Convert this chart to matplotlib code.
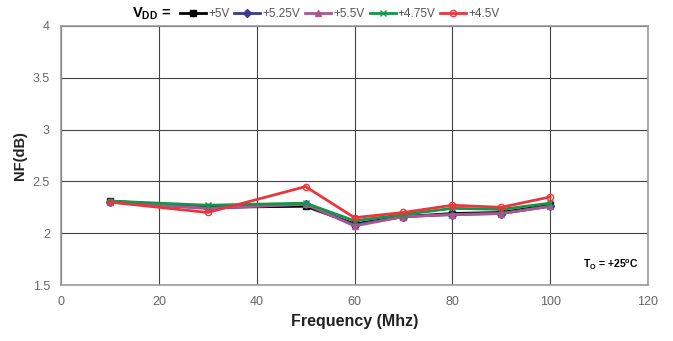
import numpy as np
import matplotlib.pyplot as plt

plt.rcParams['font.family'] = ['Liberation Sans', 'DejaVu Sans']

freq = [10, 30, 50, 60, 70, 80, 90, 100]
nf_5v = [2.31, 2.25, 2.26, 2.09, 2.16, 2.19, 2.20, 2.27]
nf_525v = [2.30, 2.24, 2.28, 2.08, 2.16, 2.18, 2.19, 2.26]
nf_55v = [2.30, 2.24, 2.28, 2.07, 2.16, 2.18, 2.19, 2.26]
nf_475v = [2.31, 2.27, 2.29, 2.12, 2.18, 2.24, 2.23, 2.29]
nf_45v = [2.30, 2.20, 2.45, 2.15, 2.20, 2.27, 2.25, 2.35]

series = [
    ('+5V', nf_5v, 'black', 's', 'black'),
    ('+5.25V', nf_525v, '#3a3a8e', 'D', '#3a3a8e'),
    ('+5.5V', nf_55v, '#a8588e', '^', '#a8588e'),
    ('+4.75V', nf_475v, '#16944a', 'x', '#16944a'),
    ('+4.5V', nf_45v, '#e8373c', 'o', 'none'),
]

fig = plt.figure(figsize=(6.73, 3.41), dpi=100)
ax = fig.add_axes([61/673, 1 - 285/341, (648-61)/673, (285-26)/341])

for lab, y, c, m, fc in series:
    ax.plot(freq, y, color=c, marker=m, markerfacecolor=fc, markeredgecolor=c,
            markersize=4.5, linewidth=2, label=lab)

ax.set_xlim(0, 120)
ax.set_ylim(1.5, 4)
ax.set_xticks(np.arange(0, 121, 20))
ax.set_yticks([1.5, 2, 2.5, 3, 3.5, 4])
ax.set_yticklabels(['1.5', '2', '2.5', '3', '3.5', '4'])
ax.grid(color='#444444', linewidth=0.8)
ax.tick_params(length=0, labelsize=9, colors='#666666', pad=8)
for s in ax.spines.values():
    s.set_color('#999999')
    s.set_linewidth(1.2)

ax.set_xlabel('Frequency (Mhz)', fontsize=11.5, fontweight='bold', color='#222222')
ax.set_ylabel('NF(dB)', fontsize=10.5, fontweight='bold', color='#222222')

ax.text(0.985, 0.05, 'T$_{\\mathregular{O}}$ = +25$^{\\mathregular{o}}$C', transform=ax.transAxes,
        ha='right', va='bottom', fontsize=7.5, fontweight='bold',
        bbox=dict(facecolor='white', edgecolor='none', pad=1))

fig.text(132/673, 1 - 14/341, 'V$_{\\mathregular{DD}}$ =', fontsize=10.5, fontweight='bold',
         va='center', ha='left')
leg = fig.legend(loc='center left', bbox_to_anchor=(180/673, 1 - 14/341), ncol=5, frameon=False,
                 fontsize=8.5, handlelength=2.2, handletextpad=0.2, columnspacing=0.4,
                 borderaxespad=0, borderpad=0)
for t in leg.get_texts():
    t.set_color('#555555')

fig.savefig('out.png', dpi=100)
